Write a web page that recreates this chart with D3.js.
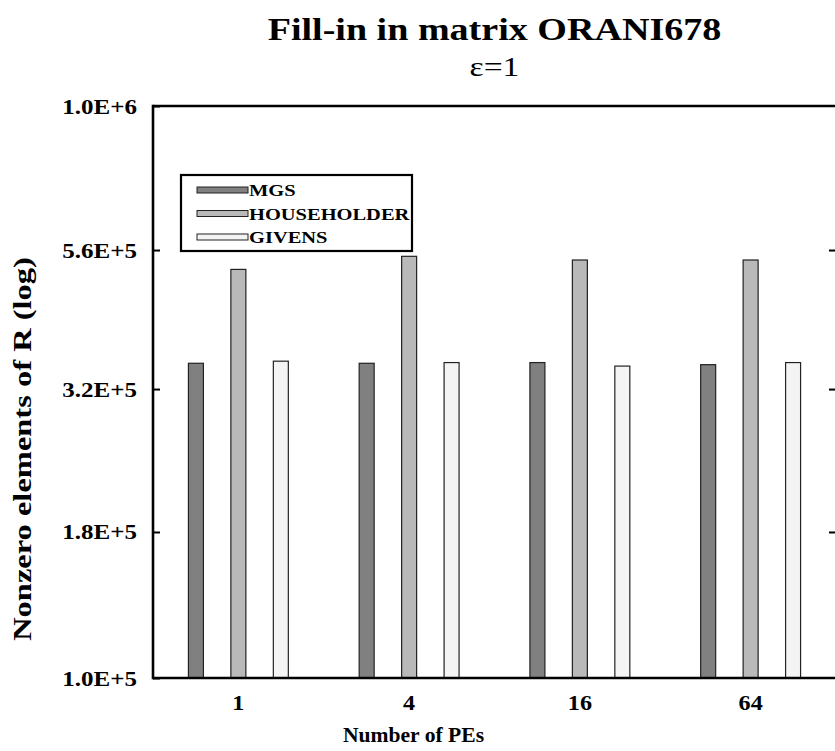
<!DOCTYPE html>
<html>
<head>
<meta charset="utf-8">
<script src="https://cdn.jsdelivr.net/npm/d3@7"></script>
<style>
  html, body { margin: 0; padding: 0; background: #fff; }
  svg { display: block; }
  text { font-family: "Liberation Serif", "Times New Roman", serif; fill: #000; }
</style>
</head>
<body>
<script>
// Number of processing elements (x categories)
const categories = ["1", "4", "16", "64"];
// Series names, in drawing order
const seriesNames = ["MGS", "HOUSEHOLDER", "GIVENS"];
// Nonzero elements of R for each method, per PE count
const mgsValues = [355000, 355000, 356000, 353000];
const householderValues = [518000, 546000, 538000, 538000];
const givensValues = [358000, 356000, 351000, 356000];
// Log-axis ticks and their printed labels
const yTickValues = [1e5, 1.8e5, 3.2e5, 5.6e5, 1e6];
const yTickLabels = ["1.0E+5", "1.8E+5", "3.2E+5", "5.6E+5", "1.0E+6"];

const seriesValues = [mgsValues, householderValues, givensValues];
const seriesFill = ["#808080", "#b9b9b9", "#f4f4f4"];

const W = 835, H = 751;
const margin = { left: 153, right: -1, top: 106, bottom: 73 };
const x0 = margin.left, x1 = W - margin.right;
const yTop = margin.top, yBot = H - margin.bottom;

const svg = d3.select("body").append("svg").attr("width", W).attr("height", H);

const x = d3.scaleBand().domain(categories).range([x0, x1]).padding(0);
const xs = d3.scaleBand().domain(seriesNames)
  .range([-x.bandwidth() * 0.373, x.bandwidth() * 0.373])
  .paddingInner(0.647).paddingOuter(0.3235);
const y = d3.scaleLog().domain([1e5, 1e6]).range([yBot, yTop]);

// wide text helper: places text at (px,py), rotated by rot, stretched along its baseline
function wideText(sel, px, py, str, opts) {
  const o = Object.assign({ size: 18, weight: "bold", anchor: "middle", rot: 0, sx: 1.2 }, opts);
  return sel.append("text")
    .attr("transform", `translate(${px},${py}) rotate(${o.rot}) scale(${o.sx},1)`)
    .attr("text-anchor", o.anchor)
    .style("font-size", o.size + "px")
    .style("font-weight", o.weight)
    .text(str);
}

// bars
const rows = [];
categories.forEach((c, i) => seriesNames.forEach((s, j) => rows.push({ c, s, v: seriesValues[j][i], j })));
svg.append("g").selectAll("rect").data(rows).join("rect")
  .attr("x", d => x(d.c) + x.bandwidth() / 2 + xs(d.s))
  .attr("width", xs.bandwidth())
  .attr("y", d => y(d.v))
  .attr("height", d => yBot - y(d.v))
  .attr("fill", d => seriesFill[d.j])
  .attr("stroke", "#222")
  .attr("stroke-width", 1.2);

// frame: left axis, bottom axis, top line
const frame = svg.append("g").attr("stroke", "#000").attr("stroke-width", 2.6).attr("fill", "none");
frame.append("line").attr("x1", x0).attr("x2", x0).attr("y1", yTop - 1.3).attr("y2", yBot + 1.3);
frame.append("line").attr("x1", x0).attr("x2", x1 + 2).attr("y1", yBot).attr("y2", yBot);
frame.append("line").attr("x1", x0).attr("x2", x1 + 2).attr("y1", yTop).attr("y2", yTop);

// left axis: inward ticks with labels
const yAxisL = d3.axisRight(y).tickValues(yTickValues).tickSize(7).tickFormat("");
const gL = svg.append("g").attr("transform", `translate(${x0},0)`).call(yAxisL);
gL.select(".domain").remove();
gL.selectAll(".tick line").attr("stroke", "#000").attr("stroke-width", 2);
yTickValues.forEach((v, i) => wideText(svg, x0 - 16, y(v) + 7.5, yTickLabels[i], { size: 21, anchor: "end", sx: 1.19 }));

// right axis: inward ticks only
const yAxisR = d3.axisLeft(y).tickValues(yTickValues.slice(1, -1)).tickSize(8).tickFormat("");
const gR = svg.append("g").attr("transform", `translate(${x1 + 1},0)`).call(yAxisR);
gR.select(".domain").remove();
gR.selectAll(".tick line").attr("stroke", "#000").attr("stroke-width", 2);

// x axis labels
const xAxis = d3.axisBottom(x).tickSize(0).tickFormat("");
const gX = svg.append("g").attr("transform", `translate(0,${yBot})`).call(xAxis);
gX.select(".domain").remove();
categories.forEach(c => wideText(svg, x(c) + x.bandwidth() / 2, yBot + 32, c, { size: 21, sx: 1.15 }));

// axis titles
wideText(svg, (x0 + x1) / 2 - 81, H - 9, "Number of PEs", { size: 20, sx: 1.08 });
wideText(svg, 31, (yTop + yBot) / 2 + 57, "Nonzero elements of R (log)", { size: 25, rot: -90, sx: 1.3 });

// titles
wideText(svg, (x0 + x1) / 2, 40, "Fill-in in matrix ORANI678", { size: 32, sx: 1.19 });
wideText(svg, (x0 + x1) / 2, 76, "\u03b5=1", { size: 28, weight: "normal", sx: 1.2 });

// legend
const lg = svg.append("g");
lg.append("rect").attr("x", 181).attr("y", 175).attr("width", 231).attr("height", 76)
  .attr("fill", "#fff").attr("stroke", "#000").attr("stroke-width", 2.2);
seriesNames.forEach((s, j) => {
  const cy = 190 + j * 23.5;
  lg.append("rect").attr("x", 197).attr("y", cy - 3).attr("width", 51).attr("height", 6)
    .attr("fill", seriesFill[j]).attr("stroke", "#222").attr("stroke-width", 1);
  wideText(lg, 249, cy + 6, s, { size: 17.5, anchor: "start", sx: 1.17 });
});
</script>
</body>
</html>
